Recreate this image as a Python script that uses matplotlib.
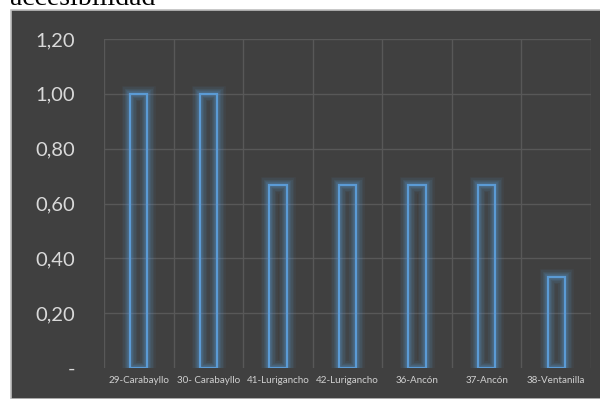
import numpy as np
import matplotlib.pyplot as plt
from matplotlib.patches import Rectangle

# data
labels = ["29-Carabayllo", "30- Carabayllo", "41-Lurigancho", "42-Lurigancho",
          "36-Ancón", "37-Ancón", "38-Ventanilla"]
values = [1.0, 1.0, 0.667, 0.667, 0.667, 0.667, 0.333]
yticks = [0, 0.2, 0.4, 0.6, 0.8, 1.0, 1.2]
ytick_labels = ["-", "0,20", "0,40", "0,60", "0,80", "1,00", "1,20"]

bg = "#404040"
grid = "#585858"
blue = "#5b9bd5"

fig = plt.figure(figsize=(6, 3.99), dpi=100)
fig.patch.set_facecolor("white")

# dark chart box
fig.patches.append(Rectangle((11 / 600, 0), 1, 1 - 10 / 399, transform=fig.transFigure,
                             facecolor=bg, edgecolor="#bfbfbf", linewidth=1.2, zorder=-10))

# cut-off title above chart (cut off in the original too)
fig.text(10 / 600, 1 - 5 / 399, "accesibilidad", family="Liberation Serif",
         fontsize=20, color="black", va="baseline", ha="left")

ax = fig.add_axes([104 / 600, (399 - 368) / 399, 487 / 600, (368 - 39) / 399])
ax.patch.set_alpha(0)

x = np.arange(len(labels))
w = 0.25

# glow
for lw, a in [(12, 0.06), (10, 0.07), (8, 0.09), (6, 0.12), (4, 0.18)]:
    ax.bar(x, values, width=w, facecolor="none", edgecolor=blue, linewidth=lw, alpha=a, zorder=3)
ax.bar(x, values, width=w, facecolor="none", edgecolor=blue, linewidth=1.6, zorder=4)

ax.set_xlim(-0.5, len(labels) - 0.5)
ax.set_ylim(0, 1.2)

ax.set_yticks(yticks)
ax.set_yticklabels(ytick_labels, family="Lato", fontsize=14.5, color="#d9d9d9")
ax.set_xticks(x)
ax.set_xticklabels(labels, family="Lato", fontsize=7.1, color="#d0d0d0")
ax.tick_params(axis="y", length=0, pad=21)
ax.tick_params(axis="x", length=0, pad=6)

# grid lines
for yv in yticks[1:]:
    ax.axhline(yv, color=grid, linewidth=1, zorder=1)
for xv in np.arange(-0.5, len(labels), 1):
    ax.axvline(xv, color=grid, linewidth=1, zorder=1)

for s in ax.spines.values():
    s.set_visible(False)

fig.savefig("out.png", dpi=100)
